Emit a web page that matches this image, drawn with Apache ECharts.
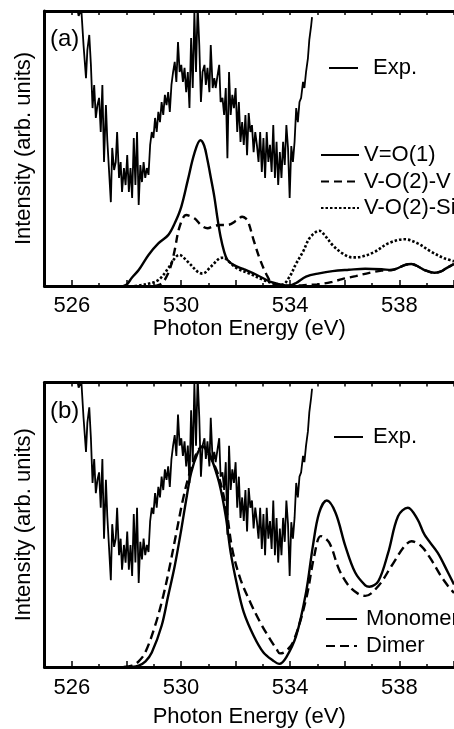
<!DOCTYPE html>
<html><head><meta charset="utf-8">
<script src="https://cdn.jsdelivr.net/npm/echarts@6/dist/echarts.min.js"></script>
<style>html,body{margin:0;padding:0;background:#fff}#c{width:454px;height:729px}</style>
</head><body><div id="c"></div>
<script>
// ---- data (x = photon energy in eV, y = intensity, arb. units 0-100 of panel height) ----
const expData = [[526.14,104],[526.25,98.2],[526.35,100.4],[526.43,87.6],[526.52,75.6],[526.57,85.8],[526.64,91.3],[526.70,80.4],[526.76,64.7],[526.82,73.1],[526.88,61.1],[526.94,65.8],[527.00,68.4],[527.06,56.0],[527.12,73.1],[527.18,45.1],[527.25,65.8],[527.30,53.1],[527.36,53.8],[527.43,30.5],[527.48,50.2],[527.55,42.2],[527.61,45.1],[527.66,56.0],[527.73,39.3],[527.79,45.1],[527.84,34.2],[527.91,42.9],[527.97,36.7],[528.03,47.6],[528.09,34.2],[528.15,42.9],[528.21,32.0],[528.27,53.8],[528.33,36.7],[528.39,56.0],[528.45,29.5],[528.51,44.0],[528.57,37.8],[528.63,45.1],[528.69,39.3],[528.75,42.9],[528.81,40.4],[528.87,51.3],[528.93,56.0],[528.99,53.8],[529.05,61.1],[529.11,56.0],[529.17,63.3],[529.23,59.6],[529.29,66.9],[529.35,62.2],[529.41,69.5],[529.47,65.8],[529.53,70.5],[529.59,63.3],[529.65,73.1],[529.71,77.8],[529.77,81.5],[529.83,74.2],[529.89,88.7],[529.95,77.8],[530.01,80.4],[530.07,74.2],[530.13,79.3],[530.19,70.5],[530.25,77.8],[530.31,64.7],[530.37,90.2],[530.43,72.0],[530.49,99.6],[530.55,77.8],[530.61,102],[530.67,87.6],[530.73,66.9],[530.79,77.8],[530.86,80.4],[530.91,73.1],[530.97,79.3],[531.04,70.5],[531.09,87.6],[531.16,72.0],[531.22,75.6],[531.27,72.0],[531.34,76.7],[531.40,80.4],[531.45,66.9],[531.52,68.4],[531.58,62.2],[531.64,72.0],[531.70,46.5],[531.76,77.8],[531.82,62.2],[531.88,69.5],[531.94,64.7],[532.00,72.0],[532.06,56.0],[532.12,66.9],[532.18,52.4],[532.24,59.6],[532.30,51.3],[532.36,62.2],[532.42,47.6],[532.48,62.9],[532.54,56.0],[532.60,58.5],[532.66,48.7],[532.72,56.0],[532.78,51.3],[532.84,45.1],[532.90,56.0],[532.96,41.5],[533.02,53.8],[533.08,39.3],[533.14,56.0],[533.20,45.1],[533.26,51.3],[533.32,41.5],[533.38,58.5],[533.44,39.3],[533.50,52.4],[533.56,36.7],[533.62,48.7],[533.68,39.3],[533.74,52.4],[533.80,44.0],[533.86,58.5],[533.92,50.2],[533.98,32.0],[534.04,50.9],[534.10,45.1],[534.16,52.4],[534.22,64.7],[534.28,59.6],[534.34,66.9],[534.40,68.4],[534.47,74.2],[534.52,72.0],[534.58,77.8],[534.65,82.9],[534.70,89.5],[534.77,94.9],[534.80,97.8]];

const vo1 = [[527.9,0],[528.03,0.7],[528.2,3],[528.45,5.8],[528.81,11.3],[529.17,15.5],[529.53,18.5],[529.77,22.8],[530.01,28.8],[530.25,38.5],[530.49,48.2],[530.71,53],[530.85,51],[530.97,45.8],[531.1,39],[531.22,32.5],[531.33,25],[531.45,17.9],[531.58,12.5],[531.7,9.5],[531.94,7.6],[532.3,6.1],[532.78,4],[533.26,1.6],[533.72,0.4],[533.97,0.2],[534.2,1],[534.58,3.4],[535.06,4.6],[535.55,5.4],[536.15,5.9],[536.75,6.3],[537.35,6.1],[537.71,5.8],[537.9,6.3],[538.19,7.6],[538.44,8],[538.7,7],[538.92,5.8],[539.28,4.8],[539.5,5.2],[539.71,6.4],[540,8]];

const vo2v = [[529.0,0],[529.17,0.3],[529.35,1.5],[529.53,4.6],[529.65,8],[529.77,13.1],[529.95,21.6],[530.19,25.8],[530.49,24.6],[530.75,22],[530.97,21],[531.2,21.8],[531.45,22.2],[531.7,22.2],[532.06,24],[532.24,25.2],[532.38,24.5],[532.48,22.8],[532.66,16.7],[532.9,9.5],[533.14,4],[533.32,1.2],[533.6,0.2],[534.0,0],[534.5,0.3],[535.0,0.6],[535.5,1.4],[535.9,2.5],[536.4,3.6],[536.9,4.8],[537.35,5.6],[537.71,5.8],[537.9,6.3],[538.19,7.6],[538.44,8],[538.7,7],[538.92,5.8],[539.28,4.8],[539.5,5.2],[539.71,6.4],[540,8]];

const vo2si = [[528.3,0],[528.69,0.6],[529.17,2.2],[529.53,6.4],[529.77,10.1],[529.93,11.3],[530.25,8.8],[530.61,5.2],[530.79,4.5],[531.09,7],[531.4,10],[531.55,10.3],[531.76,8.8],[532.06,6.4],[532.54,4.4],[533.02,2.2],[533.38,1],[533.7,0.5],[533.98,3.4],[534.22,8.2],[534.47,12.5],[534.7,17.3],[534.95,19.7],[535.06,20.1],[535.31,17.9],[535.55,14.9],[535.91,11.9],[536.27,10.4],[536.63,10.7],[537.11,12.5],[537.59,15.5],[538.19,17],[538.67,15.5],[539.16,12.5],[539.64,10.1],[540,9]];

const monomer = [[528.2,0],[528.45,0.5],[528.7,2],[528.93,5.1],[529.29,14.5],[529.53,25],[529.77,35.5],[530.01,48.3],[530.19,58.8],[530.37,68.2],[530.61,75.2],[530.79,77.5],[530.95,76.5],[531.09,74],[531.4,64.7],[531.64,53],[531.82,40.2],[532.06,28.5],[532.3,19.2],[532.66,11],[533.02,5.1],[533.38,2.2],[533.6,1.1],[533.86,3.5],[534.22,11],[534.58,26.2],[534.83,42.5],[535.06,54.2],[535.34,58.5],[535.66,54.2],[536.02,42.5],[536.38,33.2],[536.75,28.7],[536.9,28.2],[537.23,30.2],[537.59,40.2],[537.95,53],[538.31,56],[538.67,51.8],[538.92,46.5],[539.4,40.2],[539.78,33.2],[540,29]];

const dimer = [[527.9,0],[528.21,0.5],[528.45,2],[528.69,5.1],[529.05,14.5],[529.35,25],[529.59,35.5],[529.83,47.2],[530.07,58.8],[530.31,68],[530.61,76],[530.79,77.5],[531.0,75],[531.34,68.2],[531.64,56.5],[531.88,41.3],[532.18,30.8],[532.54,22.7],[532.9,15.7],[533.26,9.8],[533.5,6.3],[533.62,4.8],[533.8,5.3],[534.1,8.6],[534.58,23.8],[534.88,39],[535.12,46],[535.43,43.7],[535.79,34.3],[536.15,28.5],[536.51,25.6],[536.75,25],[537.23,28.5],[537.71,35.5],[538.19,42.5],[538.44,44.2],[538.8,42.5],[539.16,37.8],[539.52,32],[539.78,28.5],[540,26]];

const xLabelValues = [526, 530, 534, 538];
const majorTickValues = [526, 528, 530, 532, 534, 536, 538, 540];
const minorTickValues = [525, 527, 529, 531, 533, 535, 537, 539];
const allTickValues = [525,526,527,528,529,530,531,532,533,534,535,536,537,538,539,540];

const FONT = 'Liberation Sans, Arial, Helvetica, sans-serif';
const BLACK = '#000';
const NONE = 'rgba(0,0,0,0)';

function xAxes(g, labelMargin, nameGap) {
  return [
    { gridIndex: g, type: 'value', min: 525, max: 540, interval: 1, position: 'bottom',
      axisLine: { show: true, lineStyle: { color: BLACK, width: 3 } },
      axisTick: { show: true, inside: true, length: 6, customValues: majorTickValues, lineStyle: { color: BLACK, width: 1.5 } },
      axisLabel: { show: true, customValues: xLabelValues, fontSize: 22, color: BLACK, fontFamily: FONT, margin: labelMargin },
      splitLine: { show: false },
      name: 'Photon Energy (eV)', nameLocation: 'middle', nameGap: nameGap,
      nameTextStyle: { fontSize: 22, color: BLACK, fontFamily: FONT } },
    { gridIndex: g, type: 'value', min: 525, max: 540, interval: 1, position: 'bottom',
      axisLine: { show: false },
      axisTick: { show: true, inside: true, length: 3, customValues: minorTickValues, lineStyle: { color: BLACK, width: 1.5 } },
      axisLabel: { show: false }, splitLine: { show: false } },
    { gridIndex: g, type: 'value', min: 525, max: 540, interval: 1, position: 'top',
      axisLine: { show: true, lineStyle: { color: BLACK, width: 3 } },
      axisTick: { show: true, inside: true, length: 4, customValues: allTickValues, lineStyle: { color: BLACK, width: 1.5 } },
      axisLabel: { show: false }, splitLine: { show: false } }
  ];
}
function yAxis(g) {
  return { gridIndex: g, type: 'value', min: 0, max: 100,
    axisLine: { show: true, lineStyle: { color: BLACK, width: 3 } },
    axisTick: { show: false }, axisLabel: { show: false }, splitLine: { show: false },
    name: 'Intensity (arb. units)', nameLocation: 'middle', nameGap: 10, nameRotate: 90,
    nameTextStyle: { fontSize: 22, color: BLACK, fontFamily: FONT } };
}
function line(name, data, xi, yi, width, type, smooth) {
  return { name, type: 'line', data, xAxisIndex: xi, yAxisIndex: yi, symbol: 'none', showSymbol: false,
    smooth: smooth, clip: true, animation: false,
    itemStyle: { color: NONE, borderWidth: 0, opacity: 0 },
    lineStyle: { color: BLACK, width, type } };
}
const legendText = { fontSize: 22, color: BLACK, fontFamily: FONT };
const legendCommon = { padding: 0, itemHeight: 22, selectedMode: false,
  itemStyle: { color: NONE, borderWidth: 0, opacity: 0 } };

const option = {
  backgroundColor: '#fff',
  animation: false,
  grid: [
    { left: 44.5, top: 11, width: 415.5, height: 275 },
    { left: 44.5, top: 382.5, width: 415.5, height: 285.5 }
  ],
  xAxis: [...xAxes(0, 9, 31), ...xAxes(1, 10, 39)],
  yAxis: [yAxis(0), yAxis(1)],
  legend: [
    Object.assign({ data: ['Exp.'], left: 328, top: 57, itemWidth: 29,
      textStyle: Object.assign({ padding: [0, 0, 0, 10] }, legendText) }, legendCommon),
    Object.assign({ data: ['V=O(1)', 'V-O(2)-V', 'V-O(2)-Si'], orient: 'vertical', left: 320, top: 144,
      itemWidth: 38, itemGap: 4.5, textStyle: legendText }, legendCommon),
    Object.assign({ data: ['Exp.'], left: 333, top: 426, itemWidth: 29,
      textStyle: Object.assign({ padding: [0, 0, 0, 5] }, legendText) }, legendCommon),
    Object.assign({ data: ['Monomer', 'Dimer'], orient: 'vertical', left: 325, top: 608,
      itemWidth: 31, itemGap: 5, textStyle: Object.assign({ padding: [0, 0, 0, 4] }, legendText) }, legendCommon)
  ],
  graphic: [
    { type: 'text', x: 50, y: 39, style: { text: '(a)', fontSize: 24, fill: BLACK, fontFamily: FONT, verticalAlign: 'middle' } },
    { type: 'text', x: 50, y: 411, style: { text: '(b)', fontSize: 24, fill: BLACK, fontFamily: FONT, verticalAlign: 'middle' } }
  ],
  series: [
    line('Exp.', expData, 0, 0, 1.8, 'solid', false),
    line('V=O(1)', vo1, 0, 0, 2.4, 'solid', 0.35),
    line('V-O(2)-V', vo2v, 0, 0, 2.4, [8, 5], 0.35),
    line('V-O(2)-Si', vo2si, 0, 0, 2.6, [2.5, 2], 0.35),
    line('Exp.', expData, 3, 1, 1.8, 'solid', false),
    line('Monomer', monomer, 3, 1, 2.4, 'solid', 0.35),
    line('Dimer', dimer, 3, 1, 2.4, [9, 5], 0.35)
  ]
};
const chart = echarts.init(document.getElementById('c'), null, { renderer: 'canvas' });
chart.setOption(option);
</script></body></html>
